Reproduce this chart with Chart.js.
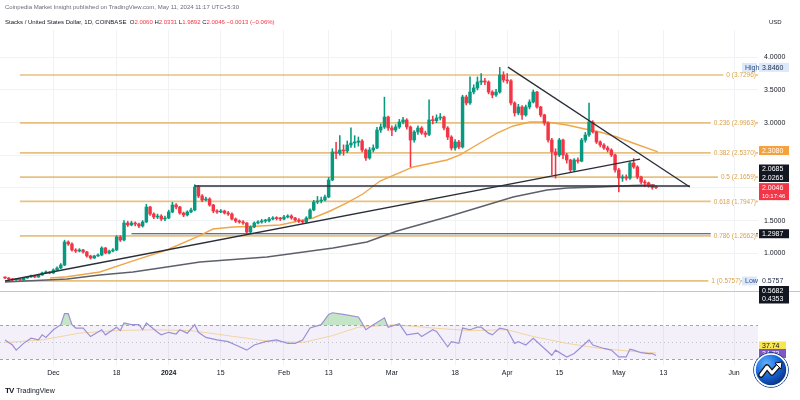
<!DOCTYPE html>
<html>
<head>
<meta charset="utf-8">
<script src="https://cdn.jsdelivr.net/npm/chart.js@4.4.1/dist/chart.umd.min.js"></script>
<style>
  html, body { margin: 0; padding: 0; background: #fff; }
  #wrap { position: relative; width: 800px; height: 400px; overflow: hidden; font-family: "Liberation Sans", Arial, sans-serif; }
  #c { position: absolute; left: 0; top: 0; }
  .hd { position: absolute; left: 5px; font-size: 6px; line-height: 8px; color: #6a6d78; white-space: nowrap; }
  .hd b { font-weight: normal; color: #f23645; }
  #usd { position: absolute; left: 769px; top: 19px; font-size: 6px; color: #131722; }
  #tv { position: absolute; left: 5px; top: 386px; font-size: 7px; color: #131722; white-space: nowrap; }
  #tv span { font-weight: bold; font-size: 8px; letter-spacing: -1px; margin-right: 3px; }
  #logo { position: absolute; left: 753px; top: 352px; width: 36px; height: 36px; }
</style>
</head>
<body>
<div id="wrap">
  <canvas id="c" width="800" height="400"></canvas>
  <div class="hd" style="top:3px">Coinpedia Market Insight published on TradingView.com, May 11, 2024 11:17 UTC+5:30</div>
  <div class="hd" style="top:18px;color:#131722">Stacks / United States Dollar, 1D, COINBASE &nbsp;O<b>2.0060</b> H<b>2.0331</b> L<b>1.9892</b> C<b>2.0046</b> <b>−0.0013 (−0.06%)</b></div>
  <div id="usd">USD</div>
  <div id="tv"><span>TV</span>TradingView</div>
  <svg id="logo" viewBox="0 0 36 36">
    <defs>
      <radialGradient id="lg" cx="35%" cy="30%" r="75%">
        <stop offset="0" stop-color="#5fb2ff"/><stop offset="0.55" stop-color="#1565d8"/><stop offset="1" stop-color="#0a2e7a"/>
      </radialGradient>
    </defs>
    <circle cx="18" cy="18" r="17.3" fill="none" stroke="#0b3a8f" stroke-width="1"/>
    <circle cx="18" cy="18" r="16" fill="url(#lg)" stroke="#fff" stroke-width="1.6"/>
    <path d="M8 23 L14 15 L19 21 L26 13" fill="none" stroke="#111" stroke-width="5.5" stroke-linejoin="round" stroke-linecap="round"/>
    <path d="M8 23 L14 15 L19 21 L26 13" fill="none" stroke="#fff" stroke-width="3" stroke-linejoin="round" stroke-linecap="round"/>
    <path d="M22 11 L29 10 L28 17 Z" fill="#fff" stroke="#111" stroke-width="1"/>
  </svg>
</div>
<script>
const GREEN = '#089981', RED = '#f23645';

// daily candles, day 0 = 18 Nov 2023 ... day 175 = 11 May 2024
const firstOpen = 0.63;
const closes = [
  0.621,0.605,0.590,0.605,0.590,0.621,0.636,0.652,0.636,0.667,
  0.698,0.713,0.698,0.744,0.774,0.820,1.172,1.142,1.050,1.034,
  1.050,1.019,0.958,0.927,0.958,0.973,1.080,1.004,1.034,1.050,
  1.249,1.203,1.463,1.433,1.463,1.448,1.417,1.479,1.708,1.601,
  1.555,1.570,1.525,1.540,1.632,1.739,1.708,1.616,1.586,1.632,
  1.662,2.014,1.877,1.815,1.831,1.739,1.647,1.632,1.647,1.616,
  1.601,1.525,1.494,1.479,1.463,1.325,1.402,1.463,1.479,1.494,
  1.496,1.525,1.540,1.530,1.525,1.555,1.570,1.540,1.509,1.494,
  1.479,1.540,1.662,1.785,1.800,1.815,1.861,2.122,2.551,2.530,
  2.581,2.566,2.658,2.688,2.700,2.719,2.581,2.459,2.581,2.612,
  2.887,2.933,3.086,2.918,2.887,2.933,3.010,3.041,2.933,2.734,
  2.857,2.918,2.841,2.820,3.041,3.030,3.071,3.086,2.918,2.780,
  2.612,2.704,2.627,3.393,3.301,3.469,3.531,3.622,3.638,3.622,
  3.469,3.423,3.469,3.730,3.653,3.640,3.301,3.148,3.240,3.117,
  3.240,3.316,3.469,3.240,3.117,2.995,2.734,2.551,2.505,2.734,
  2.505,2.428,2.275,2.428,2.410,2.734,2.811,3.010,2.857,2.704,
  2.658,2.612,2.581,2.505,2.275,2.152,2.168,2.150,2.382,2.321,
  2.168,2.091,2.076,2.040,2.006,2.0046
];
const highs = [
  0.64,0.63,0.615,0.615,0.61,0.63,0.645,0.665,0.66,0.68,
  0.71,0.73,0.72,0.76,0.79,0.84,1.20,1.19,1.16,1.07,
  1.07,1.06,1.03,0.97,0.97,0.99,1.10,1.09,1.05,1.07,
  1.27,1.27,1.50,1.49,1.49,1.48,1.46,1.50,1.75,1.72,
  1.62,1.60,1.59,1.57,1.66,1.78,1.76,1.72,1.63,1.65,
  1.69,2.05,2.04,1.90,1.86,1.85,1.75,1.67,1.67,1.66,
  1.64,1.62,1.54,1.51,1.50,1.47,1.42,1.48,1.50,1.52,
  1.52,1.55,1.56,1.56,1.55,1.58,1.59,1.59,1.55,1.53,
  1.51,1.56,1.68,1.81,1.87,1.86,1.89,2.16,2.60,2.70,
  2.80,2.66,2.72,2.92,2.80,2.78,2.74,2.60,2.62,2.66,
  2.93,2.98,3.39,3.10,2.95,2.97,3.05,3.08,3.06,2.95,
  2.88,2.95,2.94,2.87,3.35,3.10,3.12,3.14,3.10,2.94,
  2.80,2.74,2.73,3.42,3.42,3.70,3.58,3.70,3.75,3.68,
  3.64,3.49,3.51,3.846,3.78,3.75,3.66,3.32,3.28,3.26,
  3.27,3.35,3.50,3.48,3.25,3.13,3.01,2.76,2.60,2.76,
  2.75,2.53,2.44,2.45,2.46,2.76,2.85,3.30,3.03,2.87,
  2.72,2.68,2.64,2.60,2.52,2.30,2.20,2.20,2.40,2.45,
  2.34,2.18,2.12,2.09,2.05,2.0331
];
const lows = [
  0.61,0.595,0.58,0.585,0.58,0.585,0.615,0.63,0.625,0.63,
  0.66,0.69,0.685,0.69,0.735,0.765,0.81,1.12,1.03,1.01,
  1.02,1.00,0.94,0.91,0.92,0.95,0.96,0.99,0.99,1.02,
  1.04,1.18,1.19,1.41,1.42,1.42,1.39,1.40,1.47,1.58,
  1.53,1.53,1.50,1.50,1.53,1.62,1.68,1.60,1.56,1.57,
  1.62,1.65,1.85,1.79,1.80,1.72,1.62,1.61,1.62,1.60,
  1.58,1.51,1.47,1.46,1.44,1.30,1.31,1.39,1.45,1.46,
  1.47,1.48,1.51,1.51,1.50,1.51,1.54,1.52,1.49,1.47,
  1.46,1.47,1.53,1.65,1.76,1.77,1.80,1.85,2.11,2.45,
  2.50,2.50,2.54,2.62,2.62,2.64,2.55,2.42,2.44,2.55,
  2.60,2.85,2.91,2.88,2.80,2.86,2.91,2.98,2.90,2.32,
  2.70,2.82,2.82,2.78,2.80,2.98,3.00,3.04,2.89,2.74,
  2.58,2.58,2.60,2.61,3.27,3.28,3.44,3.50,3.58,3.58,
  3.44,3.38,3.40,3.45,3.62,3.60,3.27,3.10,3.12,3.05,
  3.10,3.21,3.30,3.22,3.09,2.96,2.70,2.20,2.15,2.48,
  2.45,2.38,2.24,2.25,2.38,2.40,2.70,2.79,2.84,2.68,
  2.63,2.59,2.55,2.48,2.24,1.94,2.10,2.12,2.13,2.30,
  2.14,2.06,2.02,2.01,1.98,1.9892
];

// fibonacci retracement
const fibLevels = [3.7296, 2.9963, 2.5370, 2.1659, 1.7947, 1.2662, 0.5757];
const fibNames = ['0 (3.7296)', '0.236 (2.9963)', '0.382 (2.5370)', '0.5 (2.1659)', '0.618 (1.7947)', '0.786 (1.2662)', '1 (0.5757)'];
const fibSpan = [4, 202.4];

// moving averages
const maFastDays = [12.1,16.7,25.5,34.4,43.5,51.6,55.9,61.3,65.9,73.9,82.8,87.4,91.9,96.2,100.8,109.7,118.8,122.3,127.7,132.3,136.6,141.1,145.7,151.1,155.9,159.9,164.5,168.8,175.5];
const maFast = [0.621,0.640,0.713,0.882,1.050,1.249,1.371,1.402,1.410,1.433,1.540,1.647,1.770,1.907,2.106,2.321,2.428,2.505,2.688,2.841,2.949,3.010,3.010,2.964,2.903,2.857,2.780,2.688,2.551];
const maSlowDays = [0,16.7,25.5,34.4,43.5,52.4,70.4,88.2,97.3,105.4,118.8,127.7,136.6,145.7,151.1,159.9,168.8,174.7];
const maSlow = [0.560,0.605,0.667,0.713,0.789,0.866,0.943,1.080,1.172,1.341,1.555,1.708,1.861,1.968,1.999,2.014,2.037,2.045];

// drawn trend lines [day, price]
const supportLine = [[0, 0.575], [170.7, 2.44]];
const resistanceLine = [[135.2, 3.85], [184.1, 2.015]];
const breakLevel = [[51, 2.03], [184.1, 2.03]];
const lowerLevel = [[34, 1.2987], [202.4, 1.2987]];

// RSI pane
const rsiDays = [0,2,3,5,7,9,10,11,13,15,16,17,18,19,21,23,26,27,30,31,32,34,36,37,38,41,42,44,46,47,49,51,52,54,57,60,62,65,67,70,73,76,78,80,82,85,87,88,91,95,96,97,99,102,103,106,108,111,112,115,116,119,120,122,123,125,127,128,130,131,133,135,137,138,140,142,145,147,148,151,153,155,157,158,161,163,165,167,168,169,171,173,174,175];
const rsiValues = [53,47,41,49,55,53,59,56,65,71,84,84,71,67,67,57,65,59,68,64,73,71,71,65,73,62,59,62,60,65,61,71,62,56,53,51,47,41,47,51,53,49,49,53,67,71,83,85,83,80,73,65,71,79,68,72,59,61,57,65,63,45,51,49,67,65,68,68,61,59,67,65,49,51,47,55,43,35,41,33,37,45,53,47,43,41,33,33,42,41,38,37,37,34.7];
const rsiMaDays = [0,10,20,30,40,50,60,70,80,88,95,105,115,125,135,142,151,160,170,175];
const rsiMa = [50,53,61,64,65,64,58,52,50,58,68,71,67,64,65,57,49,43,39,37.74];

// axes
const tickDays = [13, 30, 44, 58, 75, 87, 104, 121, 135, 149, 165, 177, 196];
const tickNames = ['Dec', '18', '2024', '15', 'Feb', '13', 'Mar', '18', 'Apr', '15', 'May', '13', 'Jun'];
const priceTicks = [1, 1.5, 2, 2.5, 3, 3.5, 4];
const hiddenPriceLabels = [2, 2.5];
const rsiTicks = [60, 80];

// view ranges so the price pane sits on top and RSI pane below
const X_MIN = -1.344, X_MAX = 202.42;
const P_MIN = -0.7115, P_MAX = 4.4187;
const R_MIN = 23.53, R_MAX = 417.65;
const paneSplit = 0.42;

const opens = closes.map((c, i) => i ? closes[i - 1] : firstOpen);
const colors = closes.map((c, i) => c >= opens[i] ? GREEN : RED);
const pts = (days, vals) => days.map((d, i) => ({ x: d, y: vals[i] }));
const seg = s => s.map(p => ({ x: p[0], y: p[1] }));
const lineDs = (data, color, width, order, extra) => Object.assign({
  type: 'line', data, borderColor: color, borderWidth: width, pointRadius: 0, tension: 0, fill: false, order
}, extra || {});

const datasets = [];
fibLevels.forEach(l => datasets.push(lineDs([{ x: fibSpan[0], y: l }, { x: fibSpan[1], y: l }], 'rgba(226,178,96,0.8)', 1.7, 30)));
datasets.push(lineDs(seg(lowerLevel), '#3b3f4a', 1.2, 25));
datasets.push(lineDs(pts(maSlowDays, maSlow), '#5d606b', 1.4, 20));
datasets.push(lineDs(pts(maFastDays, maFast), '#f0a64a', 1.4, 19));
datasets.push({
  type: 'bar', data: closes.map((c, i) => ({ x: i, y: [lows[i], highs[i]] })),
  backgroundColor: colors, barThickness: 0.9, grouped: false, order: 12
});
datasets.push({
  type: 'bar', data: closes.map((c, i) => ({ x: i, y: [opens[i], c] })),
  backgroundColor: colors, barThickness: 2.8, minBarLength: 1, grouped: false, order: 11
});
datasets.push(lineDs(seg(supportLine), '#2a2e39', 1.3, 2));
datasets.push(lineDs(seg(resistanceLine), '#2a2e39', 1.3, 2));
datasets.push(lineDs(seg(breakLevel), '#2a2e39', 1.3, 2));
datasets.push(lineDs(pts(rsiMaDays, rsiMa), 'rgba(240,190,90,0.55)', 1, 4, { yAxisID: 'rsi' }));
datasets.push(lineDs(pts(rsiDays, rsiValues), '#9d8fd6', 1.2, 3, {
  yAxisID: 'rsi',
  fill: { target: { value: 70 }, above: 'rgba(76,175,80,0.32)', below: 'rgba(0,0,0,0)' }
}));

function tag(ctx, x, yc, w, text, bg, fg) {
  ctx.fillStyle = bg;
  ctx.fillRect(x, yc - 4.5, w, 9);
  ctx.fillStyle = fg;
  ctx.fillText(text, x + 3, yc + 0.5);
}

const decor = {
  id: 'decor',
  beforeDatasetsDraw(chart) {
    const { ctx, chartArea: a, scales } = chart;
    const r = scales.rsi, y = scales.y;
    const y70 = r.getPixelForValue(70), y30 = r.getPixelForValue(30), y50 = r.getPixelForValue(50);
    ctx.save();
    ctx.fillStyle = 'rgba(126,87,194,0.09)';
    ctx.fillRect(a.left, y70, a.right - a.left, y30 - y70);
    ctx.lineWidth = 1;
    ctx.strokeStyle = '#a3a6af';
    ctx.setLineDash([3, 3]);
    [y70, y30].forEach(v => { ctx.beginPath(); ctx.moveTo(a.left, v); ctx.lineTo(a.right, v); ctx.stroke(); });
    ctx.strokeStyle = 'rgba(163,166,175,0.6)';
    ctx.setLineDash([1, 3]);
    ctx.beginPath(); ctx.moveTo(a.left, y50); ctx.lineTo(a.right, y50); ctx.stroke();
    ctx.setLineDash([]);
    const ys = Math.round(y.getPixelForValue(paneSplit)) + 0.5;
    ctx.strokeStyle = '#c4c6cc';
    ctx.beginPath(); ctx.moveTo(0, ys); ctx.lineTo(800, ys); ctx.stroke();
    ctx.restore();
  },
  afterDraw(chart) {
    const { ctx, chartArea: a, scales } = chart;
    const y = scales.y, r = scales.rsi;
    ctx.save();
    ctx.font = '6.5px "Liberation Sans", Arial, sans-serif';
    ctx.textBaseline = 'middle';
    // fib level captions
    fibLevels.forEach((l, i) => {
      const py = y.getPixelForValue(l);
      const right = i === fibLevels.length - 1 ? a.right - 17 : a.right - 2;
      const w = ctx.measureText(fibNames[i]).width;
      ctx.fillStyle = '#fff';
      ctx.fillRect(right - w - 3, py - 4, w + 3, 8);
      ctx.fillStyle = '#d9a24e';
      ctx.textAlign = 'right';
      ctx.fillText(fibNames[i], right, py + 0.5);
    });
    ctx.textAlign = 'left';
    ctx.font = '7px "Liberation Sans", Arial, sans-serif';
    const ax = a.right + 1, w = 30;
    // high / low markers
    tag(ctx, a.right - 16, y.getPixelForValue(3.846), 15, 'High', '#dce9fb', '#2f4f86');
    tag(ctx, ax, y.getPixelForValue(3.846), w, '3.8460', '#dce9fb', '#1e2a44');
    tag(ctx, a.right - 16, y.getPixelForValue(0.5757), 15, 'Low', '#dce9fb', '#2f4f86');
    tag(ctx, ax, y.getPixelForValue(0.5757), w, '0.5757', '#fff', '#1e2a44');
    // price scale labels
    tag(ctx, ax, y.getPixelForValue(2.573), w, '2.3080', '#f5a13c', '#fff');
    tag(ctx, ax, y.getPixelForValue(2.290), w, '2.0685', '#131722', '#fff');
    tag(ctx, ax, y.getPixelForValue(2.160), w, '2.0265', '#131722', '#fff');
    const last = y.getPixelForValue(2.0046);
    ctx.fillStyle = RED;
    ctx.fillRect(ax, last - 4.5, w, 17);
    ctx.fillStyle = '#fff';
    ctx.fillText('2.0046', ax + 3, last + 0.5);
    ctx.font = '6px "Liberation Sans", Arial, sans-serif';
    ctx.fillText('10:17:46', ax + 3, last + 8.5);
    ctx.font = '7px "Liberation Sans", Arial, sans-serif';
    tag(ctx, ax, y.getPixelForValue(1.2987), w, '1.2987', '#131722', '#fff');
    tag(ctx, ax, y.getPixelForValue(0.4294), w, '0.5682', '#131722', '#fff');
    tag(ctx, ax, y.getPixelForValue(0.2993), w, '0.4353', '#131722', '#fff');
    // RSI labels
    tag(ctx, ax, r.getPixelForValue(45.9), 27, '37.74', '#f7e552', '#131722');
    tag(ctx, ax, r.getPixelForValue(37.1), 27, '34.73', '#7e57c2', '#fff');
    ctx.restore();
  }
};

Chart.defaults.font.family = '"Liberation Sans", Arial, sans-serif';

new Chart(document.getElementById('c'), {
  type: 'bar',
  data: { datasets },
  options: {
    responsive: false,
    devicePixelRatio: 1,
    animation: false,
    layout: { padding: { top: 30, left: 0, right: 0, bottom: 0 } },
    plugins: { legend: { display: false }, tooltip: { enabled: false } },
    scales: {
      x: {
        type: 'linear', min: X_MIN, max: X_MAX, offset: false,
        afterFit: s => { s.height = 35; },
        afterBuildTicks: s => { s.ticks = tickDays.map(v => ({ value: v })); },
        ticks: {
          autoSkip: false, maxRotation: 0, padding: 4, color: '#131722',
          callback: (v, i) => tickNames[i],
          font: c => ({ size: 7, weight: tickNames[c.index] === '2024' ? 'bold' : 'normal' })
        },
        grid: { color: '#f1f2f5', drawTicks: false, offset: false },
        border: { display: false }
      },
      y: {
        type: 'linear', position: 'right', min: P_MIN, max: P_MAX, weight: 1,
        afterFit: s => { s.width = 42; },
        afterBuildTicks: s => { s.ticks = priceTicks.map(v => ({ value: v })); },
        ticks: {
          callback: v => hiddenPriceLabels.includes(v) ? '' : v.toFixed(4),
          color: '#131722', font: { size: 7 }, padding: 6
        },
        grid: { color: '#f1f2f5', drawTicks: false },
        border: { display: false }
      },
      rsi: {
        type: 'linear', position: 'right', min: R_MIN, max: R_MAX, weight: 0,
        afterFit: s => { s.width = 0; },
        afterBuildTicks: s => { s.ticks = rsiTicks.map(v => ({ value: v })); },
        ticks: { callback: v => v.toFixed(2), color: '#131722', font: { size: 7 }, padding: 6 },
        grid: { display: false, drawTicks: false },
        border: { display: false }
      }
    }
  },
  plugins: [decor]
});
</script>
</body>
</html>
